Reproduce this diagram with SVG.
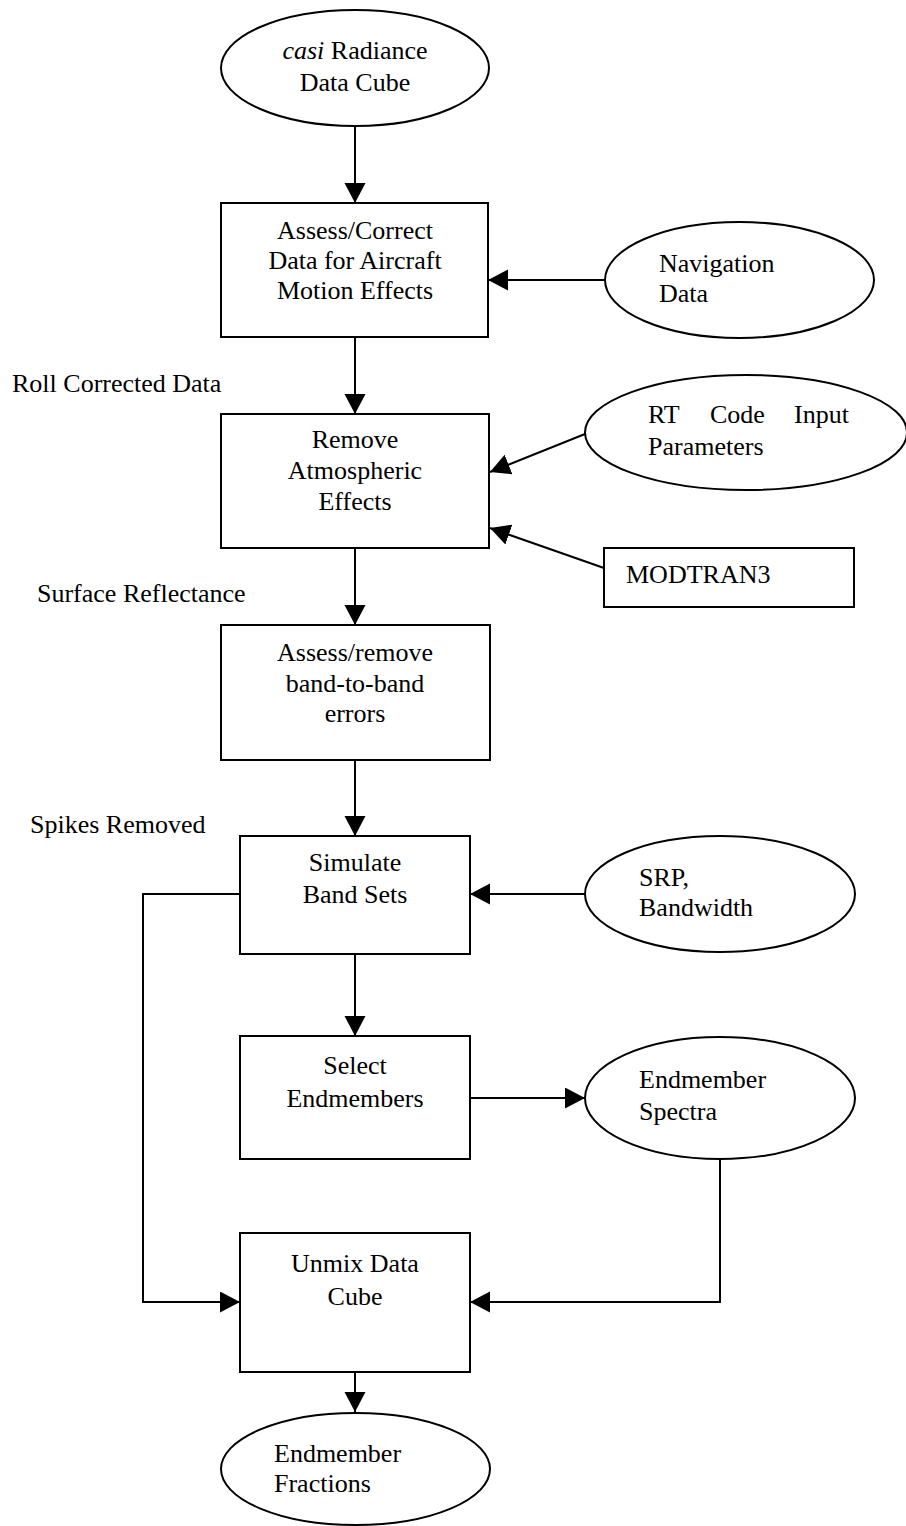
<svg xmlns="http://www.w3.org/2000/svg" width="906" height="1526" viewBox="0 0 906 1526">
  <style>
    .shape { fill: #ffffff; stroke: #000000; stroke-width: 2; }
    .t { font-family: "Liberation Serif", "Times New Roman", serif; font-size: 26px; fill: #000000; }
    .c { text-anchor: middle; }
    .conn { fill: none; stroke: #000000; stroke-width: 2; }
  </style>
  <defs>
    <marker id="arrow" markerUnits="userSpaceOnUse" markerWidth="22" markerHeight="22" refX="20" refY="10.5" orient="auto">
      <path d="M0,0 L20,10.5 L0,21 Z" fill="#000000"/>
    </marker>
  </defs>
  <rect width="906" height="1526" fill="#ffffff"/>

  <g id="connectors">
    <line class="conn" x1="355" y1="126" x2="355" y2="203" marker-end="url(#arrow)"/>
    <line class="conn" x1="605" y1="280" x2="488" y2="280" marker-end="url(#arrow)"/>
    <line class="conn" x1="355" y1="337" x2="355" y2="414" marker-end="url(#arrow)"/>
    <line class="conn" x1="585" y1="434" x2="490" y2="472" marker-end="url(#arrow)"/>
    <line class="conn" x1="604" y1="568" x2="490" y2="528" marker-end="url(#arrow)"/>
    <line class="conn" x1="355" y1="548" x2="355" y2="625" marker-end="url(#arrow)"/>
    <line class="conn" x1="355" y1="760" x2="355" y2="836" marker-end="url(#arrow)"/>
    <line class="conn" x1="585" y1="894" x2="470" y2="894" marker-end="url(#arrow)"/>
    <line class="conn" x1="355" y1="954" x2="355" y2="1036" marker-end="url(#arrow)"/>
    <line class="conn" x1="470" y1="1098" x2="585" y2="1098" marker-end="url(#arrow)"/>
    <polyline class="conn" points="240,894 143,894 143,1302 240,1302" marker-end="url(#arrow)"/>
    <polyline class="conn" points="720,1159 720,1302 470,1302" marker-end="url(#arrow)"/>
    <line class="conn" x1="355" y1="1372" x2="355" y2="1412" marker-end="url(#arrow)"/>
  </g>

  <g id="label-roll">
    <text class="t" x="12" y="392">Roll Corrected Data</text>
  </g>
  <g id="label-surface">
    <text class="t" x="37" y="602">Surface Reflectance</text>
  </g>
  <g id="label-spikes">
    <text class="t" x="30" y="833">Spikes Removed</text>
  </g>

  <g id="casi-radiance">
    <ellipse class="shape" cx="355" cy="68" rx="134" ry="58"/>
    <text class="t c" x="355" y="59"><tspan font-style="italic">casi</tspan> Radiance</text>
    <text class="t c" x="355" y="91">Data Cube</text>
  </g>

  <g id="assess-correct">
    <rect class="shape" x="221" y="203" width="267" height="134"/>
    <text class="t c" x="355" y="239">Assess/Correct</text>
    <text class="t c" x="355" y="269">Data for Aircraft</text>
    <text class="t c" x="355" y="299">Motion Effects</text>
  </g>

  <g id="navigation-data">
    <ellipse class="shape" cx="739.5" cy="280" rx="134.5" ry="58"/>
    <text class="t" x="659" y="272">Navigation</text>
    <text class="t" x="659" y="302">Data</text>
  </g>

  <g id="remove-atmospheric">
    <rect class="shape" x="221" y="414" width="268" height="134"/>
    <text class="t c" x="355" y="448">Remove</text>
    <text class="t c" x="355" y="479">Atmospheric</text>
    <text class="t c" x="355" y="510">Effects</text>
  </g>

  <g id="rt-code">
    <ellipse class="shape" cx="746" cy="432.5" rx="161" ry="57.5"/>
    <text class="t" x="648" y="423">RT</text>
    <text class="t" x="710" y="423">Code</text>
    <text class="t" x="794" y="423">Input</text>
    <text class="t" x="648" y="455">Parameters</text>
  </g>

  <g id="modtran3">
    <rect class="shape" x="604" y="548" width="250" height="59"/>
    <text class="t" x="626" y="583">MODTRAN3</text>
  </g>

  <g id="assess-remove">
    <rect class="shape" x="221" y="625" width="269" height="135"/>
    <text class="t c" x="355" y="661">Assess/remove</text>
    <text class="t c" x="355" y="692">band-to-band</text>
    <text class="t c" x="355" y="722">errors</text>
  </g>

  <g id="simulate-band-sets">
    <rect class="shape" x="240" y="836" width="230" height="118"/>
    <text class="t c" x="355" y="871">Simulate</text>
    <text class="t c" x="355" y="903">Band Sets</text>
  </g>

  <g id="srp-bandwidth">
    <ellipse class="shape" cx="720" cy="894" rx="135" ry="58"/>
    <text class="t" x="639" y="886">SRP,</text>
    <text class="t" x="639" y="916">Bandwidth</text>
  </g>

  <g id="select-endmembers">
    <rect class="shape" x="240" y="1036" width="230" height="123"/>
    <text class="t c" x="355" y="1074">Select</text>
    <text class="t c" x="355" y="1107">Endmembers</text>
  </g>

  <g id="endmember-spectra">
    <ellipse class="shape" cx="720" cy="1098" rx="135" ry="61"/>
    <text class="t" x="639" y="1088">Endmember</text>
    <text class="t" x="639" y="1120">Spectra</text>
  </g>

  <g id="unmix-data-cube">
    <rect class="shape" x="240" y="1233" width="230" height="139"/>
    <text class="t c" x="355" y="1272">Unmix Data</text>
    <text class="t c" x="355" y="1305">Cube</text>
  </g>

  <g id="endmember-fractions">
    <ellipse class="shape" cx="355.5" cy="1469" rx="134.5" ry="56"/>
    <text class="t" x="274" y="1462">Endmember</text>
    <text class="t" x="274" y="1492">Fractions</text>
  </g>
</svg>
